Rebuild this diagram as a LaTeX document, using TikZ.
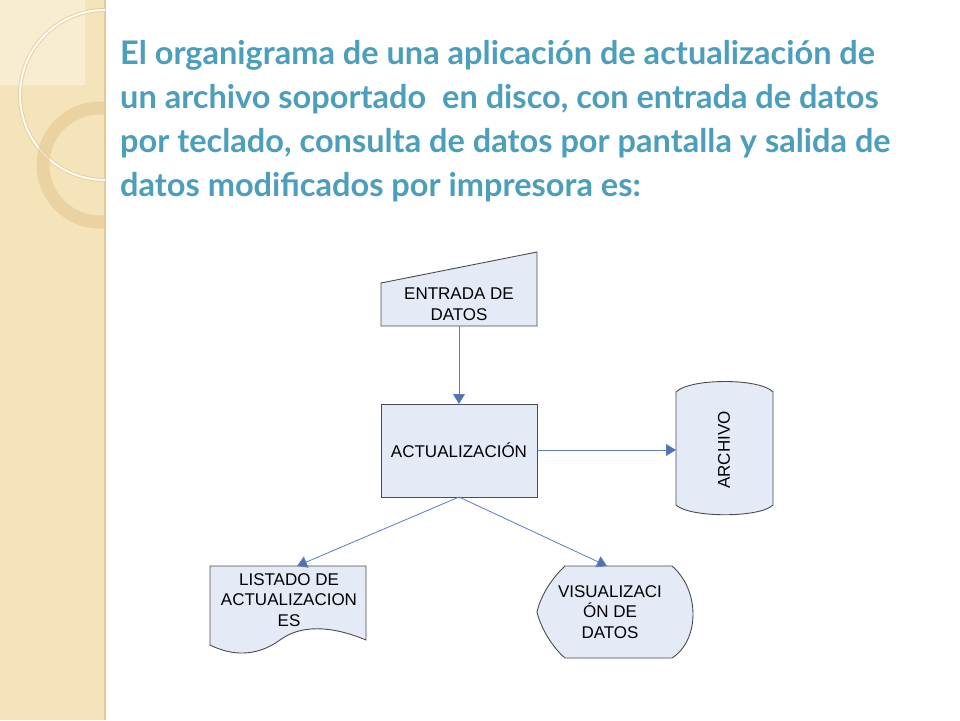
\documentclass[tikz,border=0pt]{standalone}
\usepackage{fontspec}
\setmainfont{Lato}
\newfontfamily\arialf{Liberation Sans}
\usetikzlibrary{arrows.meta,shadows}
\definecolor{ttl}{RGB}{75,158,188}
\definecolor{shfill}{RGB}{228,234,246}
\definecolor{arr}{RGB}{90,125,195}
\definecolor{beige}{RGB}{245,228,185}
\tikzset{
  shp/.style={draw=black!70, fill=shfill, line width=0.9pt},
  lbl/.style={font=\arialf\fontsize{17}{20.5}\selectfont, align=center, text=black},
  con/.style={draw=arr, line width=0.8pt, -{Triangle[length=10pt,width=12pt,fill=arr!90!black]}},
  ttltext/.style={font=\bfseries\fontsize{32.5}{44}\selectfont, text=ttl, align=left, anchor=north west, inner sep=0pt}
}
\begin{document}
\begin{tikzpicture}[x=1pt,y=-1pt]
\useasboundingbox (0,0) rectangle (960,720);
\fill[white] (0,0) rectangle (960,720);
% left strip
\fill[beige] (0,0) rectangle (105,720);
\draw[beige!70!brown, line width=1.5pt] (105,0) -- (105,720);
\begin{scope}
\clip (0,0) rectangle (105,720);
\fill[white, opacity=0.35] (0,0) rectangle (85,85);
\draw[beige!80!brown, line width=4pt] (105,95) circle (85);
\draw[white!90!beige, line width=2pt] (105,95) circle (85);
\draw[beige!70!brown, line width=13pt, opacity=0.6] (100,165) circle (57);
\end{scope}
% title
\node[ttltext] (title) at (120,40) {El organigrama de una aplicación de actualización de\\un archivo soportado\ \ en disco, con entrada de datos\\por teclado, consulta de datos por pantalla y salida de\\datos modificados por impresora es:};
% entrada (manual input)
\draw[shp] (381,283) -- (537,252) -- (537,326) -- (381,326) -- cycle;
\node[lbl] (ent) at (459,304) {ENTRADA DE\\DATOS};
\coordinate (entb) at (459,326);
% actualizacion
\draw[shp] (381,404) rectangle (537,497);
\node[lbl] (act) at (459,450) {ACTUALIZACIÓN};
\coordinate (actt) at (459,404);
\coordinate (actr) at (537,450);
\coordinate (actb) at (459,497);
% archivo cylinder
\draw[shp] (676,392) .. controls (690,378) and (760,378) .. (773,392) -- (773,505)
  .. controls (760,518) and (690,518) .. (676,505) -- cycle;
\node[lbl, rotate=90] (arch) at (724,450) {ARCHIVO};
\coordinate (archl) at (676,450);
% listado (document)
\draw[shp] (210,566) -- (366,566) -- (366,640) .. controls (330,625) and (300,625) .. (280,640)
  .. controls (255,658) and (230,655) .. (210,645) -- cycle;
\node[lbl] (lst) at (289,600) {LISTADO DE\\ACTUALIZACION\\ES};
\coordinate (lstt) at (297,566);
% visualizacion (display)
\draw[shp] (565,566) -- (672,566) .. controls (700,590) and (700,640) .. (672,658) -- (565,658)
  .. controls (550,645) and (540,625) .. (537,612) .. controls (540,598) and (550,580) .. (565,566) -- cycle;
\node[lbl] (vis) at (610,612) {VISUALIZACI\\ÓN DE\\DATOS};
\coordinate (vist) at (607,566);
% connectors
\draw[con] (entb) -- (actt);
\draw[con] (actr) -- (archl);
\draw[con] (actb) -- (lstt);
\draw[con] (actb) -- (vist);
\end{tikzpicture}
\end{document}
